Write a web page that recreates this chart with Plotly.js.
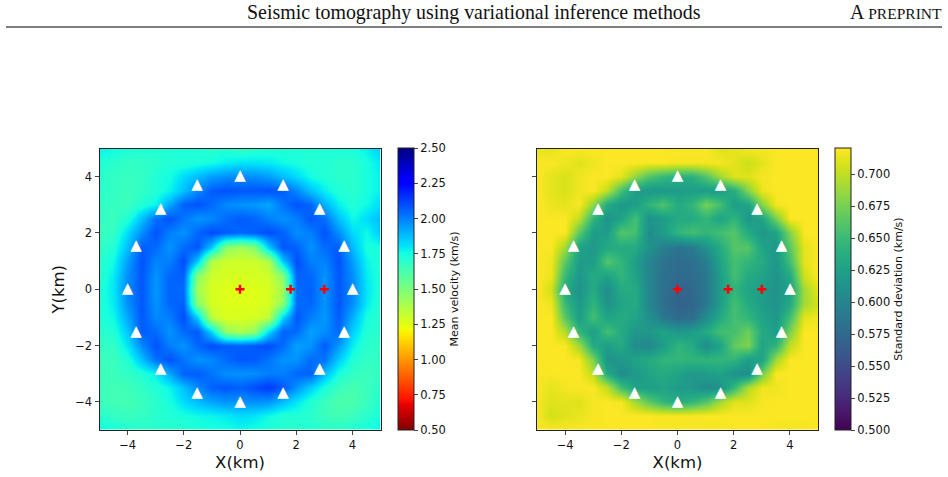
<!DOCTYPE html>
<html><head><meta charset="utf-8">
<script src="https://cdn.plot.ly/plotly-3.0.1.min.js"></script>
<style>html,body{margin:0;padding:0;background:#fff}#c{width:948px;height:477px}</style>
</head><body><div id="c"></div>
<script>
const gridX=[-5,-4.5,-4,-3.5,-3,-2.5,-2,-1.5,-1,-0.5,0,0.5,1,1.5,2,2.5,3,3.5,4,4.5,5];
const gridY=[5,4.5,4,3.5,3,2.5,2,1.5,1,0.5,0,-0.5,-1,-1.5,-2,-2.5,-3,-3.5,-4,-4.5,-5];
const meanVelocity=[
[1.78,1.76,1.73,1.72,1.72,1.72,1.73,1.72,1.70,1.71,1.68,1.70,1.71,1.72,1.72,1.72,1.72,1.73,1.74,1.78,1.85],
[1.72,1.70,1.68,1.68,1.70,1.72,1.72,1.73,1.75,1.78,1.80,1.80,1.79,1.76,1.74,1.72,1.72,1.70,1.70,1.74,1.80],
[1.70,1.68,1.67,1.68,1.72,1.75,1.82,1.88,1.94,1.97,1.98,1.97,1.94,1.88,1.82,1.75,1.72,1.70,1.70,1.74,1.78],
[1.70,1.68,1.66,1.68,1.72,1.77,1.87,1.98,2.07,2.09,2.08,2.08,2.09,2.07,1.98,1.87,1.78,1.72,1.70,1.74,1.78],
[1.68,1.67,1.66,1.72,1.77,1.92,2.06,2.09,2.04,1.98,1.96,1.95,1.92,2.02,2.09,2.05,1.90,1.78,1.72,1.76,1.82],
[1.68,1.66,1.72,1.87,2.03,2.09,2.02,1.96,1.98,2.04,2.07,2.05,2.00,1.96,2.00,2.08,2.03,1.87,1.76,1.82,1.88],
[1.66,1.68,1.82,1.97,2.09,2.00,1.96,2.05,2.10,2.07,2.05,2.07,2.10,2.06,1.97,2.00,2.09,1.97,1.82,1.76,1.86],
[1.68,1.72,1.88,2.07,2.04,1.96,2.04,2.08,1.85,1.47,1.40,1.47,1.85,2.08,2.06,1.96,2.04,2.07,1.88,1.74,1.74],
[1.70,1.76,1.94,2.09,1.99,2.00,2.10,1.85,1.36,1.30,1.30,1.30,1.36,1.85,2.10,2.00,1.99,2.09,1.94,1.77,1.72],
[1.70,1.79,1.97,2.08,1.96,2.05,2.06,1.47,1.30,1.28,1.28,1.28,1.30,1.47,2.06,2.05,1.96,2.08,1.97,1.79,1.72],
[1.72,1.80,1.98,2.08,1.95,2.06,2.04,1.40,1.28,1.26,1.26,1.26,1.28,1.40,2.04,2.06,1.96,2.08,1.98,1.80,1.72],
[1.72,1.79,1.97,2.08,1.96,2.05,2.06,1.47,1.28,1.26,1.26,1.26,1.28,1.45,2.04,2.05,1.96,2.08,1.97,1.79,1.70],
[1.72,1.76,1.92,2.08,1.98,2.00,2.10,1.85,1.34,1.27,1.27,1.28,1.34,1.83,2.08,2.00,1.95,2.07,1.90,1.74,1.70],
[1.70,1.72,1.86,2.07,2.04,1.96,2.04,2.08,1.83,1.45,1.38,1.45,1.82,2.06,2.04,1.93,1.97,2.05,1.84,1.72,1.70],
[1.68,1.68,1.80,1.98,2.09,2.00,1.96,2.05,2.10,2.07,2.06,2.08,2.10,2.04,1.93,1.96,2.07,1.95,1.78,1.70,1.68],
[1.66,1.66,1.72,1.87,2.03,2.09,2.02,1.96,1.98,2.04,2.08,2.07,2.02,1.96,1.96,2.04,2.02,1.85,1.72,1.68,1.68],
[1.66,1.66,1.68,1.72,1.78,1.92,2.06,2.07,2.02,1.97,1.96,1.97,2.00,2.00,2.05,2.06,1.88,1.74,1.68,1.66,1.68],
[1.66,1.64,1.65,1.68,1.72,1.77,1.87,1.98,2.06,2.08,2.06,2.10,2.14,2.08,1.96,1.84,1.74,1.66,1.63,1.66,1.70],
[1.66,1.64,1.64,1.66,1.70,1.74,1.82,1.88,1.93,1.96,1.96,1.97,1.96,1.88,1.80,1.72,1.66,1.62,1.62,1.66,1.72],
[1.70,1.68,1.66,1.68,1.70,1.72,1.74,1.76,1.77,1.79,1.82,1.80,1.76,1.72,1.72,1.70,1.66,1.64,1.66,1.70,1.74],
[1.76,1.74,1.72,1.70,1.70,1.70,1.70,1.72,1.74,1.74,1.76,1.74,1.72,1.70,1.70,1.72,1.70,1.70,1.72,1.74,1.78]
];
const stdDeviation=[
[.712,.712,.72,.72,.72,.72,.72,.72,.72,.72,.72,.72,.72,.71,.712,.718,.718,.72,.72,.72,.72],
[.72,.72,.716,.71,.716,.72,.72,.72,.72,.72,.718,.718,.718,.718,.712,.703,.712,.72,.72,.72,.72],
[.72,.712,.708,.716,.72,.72,.712,.685,.66,.648,.64,.64,.66,.69,.71,.71,.718,.72,.72,.72,.72],
[.72,.712,.708,.716,.72,.70,.655,.622,.617,.617,.622,.622,.622,.622,.638,.68,.715,.72,.72,.72,.72],
[.72,.715,.712,.72,.685,.635,.617,.622,.645,.66,.635,.645,.675,.655,.622,.628,.68,.718,.72,.72,.72],
[.72,.72,.72,.70,.645,.612,.628,.655,.612,.622,.635,.635,.645,.628,.645,.617,.628,.675,.72,.72,.72],
[.72,.72,.72,.665,.622,.622,.662,.655,.607,.622,.645,.655,.645,.655,.662,.635,.617,.628,.68,.72,.72],
[.72,.72,.69,.628,.617,.635,.635,.635,.612,.596,.584,.59,.612,.635,.662,.662,.628,.617,.665,.712,.72],
[.72,.716,.665,.622,.622,.662,.645,.622,.60,.584,.578,.58,.594,.628,.655,.645,.635,.617,.655,.712,.72],
[.72,.716,.648,.617,.635,.628,.645,.628,.60,.582,.576,.578,.588,.622,.655,.635,.628,.612,.635,.705,.72],
[.72,.705,.635,.612,.635,.607,.635,.635,.60,.582,.572,.575,.588,.622,.645,.628,.622,.612,.628,.69,.712],
[.72,.716,.648,.617,.645,.612,.628,.635,.60,.58,.568,.572,.588,.622,.655,.635,.622,.612,.635,.69,.706],
[.72,.72,.665,.622,.655,.628,.635,.628,.612,.59,.576,.58,.607,.635,.655,.645,.628,.617,.655,.712,.716],
[.72,.72,.695,.645,.622,.655,.635,.617,.617,.628,.617,.622,.635,.655,.655,.672,.635,.622,.678,.72,.72],
[.72,.72,.72,.69,.635,.622,.635,.607,.602,.622,.645,.635,.607,.628,.668,.678,.628,.645,.70,.72,.72],
[.72,.72,.72,.718,.678,.612,.617,.628,.635,.645,.645,.645,.645,.645,.645,.622,.628,.69,.72,.72,.72],
[.718,.72,.72,.72,.70,.635,.607,.617,.628,.635,.628,.617,.622,.628,.612,.607,.672,.72,.72,.72,.72],
[.72,.712,.718,.72,.72,.70,.655,.628,.622,.628,.622,.617,.607,.612,.648,.695,.716,.716,.72,.72,.72],
[.718,.71,.712,.71,.718,.72,.718,.69,.665,.645,.635,.645,.66,.69,.71,.71,.718,.72,.72,.72,.72],
[.718,.706,.71,.714,.718,.72,.72,.72,.72,.718,.718,.718,.72,.72,.72,.72,.72,.72,.72,.72,.72],
[.72,.72,.72,.72,.72,.72,.72,.72,.72,.72,.72,.72,.718,.718,.72,.72,.72,.718,.718,.718,.72]
];
const stationX=[0,1.53,2.83,3.7,4,3.7,2.83,1.53,0,-1.53,-2.83,-3.7,-4,-3.7,-2.83,-1.53];
const stationY=[4,3.7,2.83,1.53,0,-1.53,-2.83,-3.7,-4,-3.7,-2.83,-1.53,0,1.53,2.83,3.7];
const sourceX=[0,1.8,3];
const sourceY=[0,0,0];
const axisTicks=[-4,-2,0,2,4];
const meanTicks=[0.5,0.75,1,1.25,1.5,1.75,2,2.25,2.5];
const stdTicks=[0.5,0.525,0.55,0.575,0.6,0.625,0.65,0.675,0.7];
const jetR=[[0,'rgb(128,0,0)'],[0.09,'rgb(232,0,0)'],[0.11,'rgb(255,19,0)'],[0.34,'rgb(255,236,0)'],[0.35,'rgb(247,246,0)'],[0.36,'rgb(238,255,8)'],[0.625,'rgb(21,255,226)'],[0.65,'rgb(0,230,247)'],[0.66,'rgb(0,219,255)'],[0.875,'rgb(0,0,255)'],[0.89,'rgb(0,0,255)'],[1,'rgb(0,0,128)']];

const W=948,H=477,top_=148.5,bot=430;
const font='"DejaVu Sans",sans-serif';
function cbar(x,title,ticks,fmt){return {x:x/W,xanchor:'left',xpad:0,ypad:0,y:1-bot/H,yanchor:'bottom',
  lenmode:'pixels',len:bot-top_,thicknessmode:'pixels',thickness:15.5,outlinewidth:1,outlinecolor:'#222',
  ticks:'outside',ticklen:4,tickwidth:1,tickvals:ticks,tickformat:fmt,tickfont:{family:font,size:11.5,color:'#111'},
  title:{text:title,side:'right',font:{family:font,size:11,color:'#111'}}};}
function markers(xa,ya){return [
 {type:'scatter',mode:'text',x:stationX,y:stationY,xaxis:xa,yaxis:ya,showlegend:false,hoverinfo:'skip',
  text:stationX.map(()=>'▲'),textposition:'middle center',textfont:{family:font,size:15,color:'#fff'}},
 {type:'scatter',mode:'markers',x:sourceX,y:sourceY,xaxis:xa,yaxis:ya,showlegend:false,hoverinfo:'skip',
  marker:{symbol:'cross-thin',size:6.5,color:'#f00',line:{width:2.5,color:'#f00'}}}];}
const traces=[
 {type:'heatmap',x:gridX,y:gridY,z:meanVelocity,zmin:0.5,zmax:2.5,zsmooth:'best',colorscale:jetR,xaxis:'x',yaxis:'y',
  colorbar:cbar(397.5,'Mean velocity (km/s)',meanTicks,'.2f')},
 {type:'heatmap',x:gridX,y:gridY,z:stdDeviation,zmin:0.5,zmax:0.7207,zsmooth:'best',colorscale:'Viridis',xaxis:'x2',yaxis:'y2',
  colorbar:cbar(835,'Standard deviation (km/s)',stdTicks,'.3f')},
 ...markers('x','y'),...markers('x2','y2')];
function xax(l,r,title){return {domain:[l/W,r/W],range:[-5,5],tickvals:axisTicks,ticks:'outside',ticklen:4,tickwidth:1,
  showgrid:false,zeroline:false,showline:true,mirror:true,linecolor:'#222',linewidth:1,
  tickfont:{family:font,size:11.5,color:'#111'},title:{text:title,font:{family:font,size:16.5,color:'#111'},standoff:5}};}
function yax(labels,title,anchor){return {domain:[1-bot/H,1-top_/H],range:[-5,5],tickvals:axisTicks,ticks:'outside',ticklen:4,tickwidth:1,
  showticklabels:labels,showgrid:false,zeroline:false,showline:true,mirror:true,linecolor:'#222',linewidth:1,anchor:anchor,
  tickfont:{family:font,size:11.5,color:'#111'},title:{text:title,font:{family:font,size:16.5,color:'#111'},standoff:6}};}
const layout={width:W,height:H,margin:{l:0,r:0,t:0,b:0},paper_bgcolor:'#fff',plot_bgcolor:'#fff',showlegend:false,
 xaxis:{...xax(99.5,380.5,'X(km)'),anchor:'y'},yaxis:yax(true,'Y(km)','x'),
 xaxis2:{...xax(537,818,'X(km)'),anchor:'y2'},yaxis2:yax(false,'','x2'),
 shapes:[{type:'line',xref:'paper',yref:'paper',x0:6/W,x1:942/W,y0:1-27/H,y1:1-27/H,line:{color:'#000',width:1}}],
 annotations:[
  {xref:'paper',yref:'paper',x:474/W,y:1-12.5/H,xanchor:'center',yanchor:'middle',showarrow:false,
   text:'Seismic tomography using variational inference methods',font:{family:'"Liberation Serif",serif',size:19.9,color:'#111'}},
  {xref:'paper',yref:'paper',x:944/W,y:1-12.5/H,xanchor:'right',yanchor:'middle',showarrow:false,
   text:'A <span style="font-size:15.5px">PREPRINT</span>',font:{family:'"Liberation Serif",serif',size:19.9,color:'#111'}}
 ]};
Plotly.newPlot('c',traces,layout,{staticPlot:true,displayModeBar:false});
</script></body></html>
